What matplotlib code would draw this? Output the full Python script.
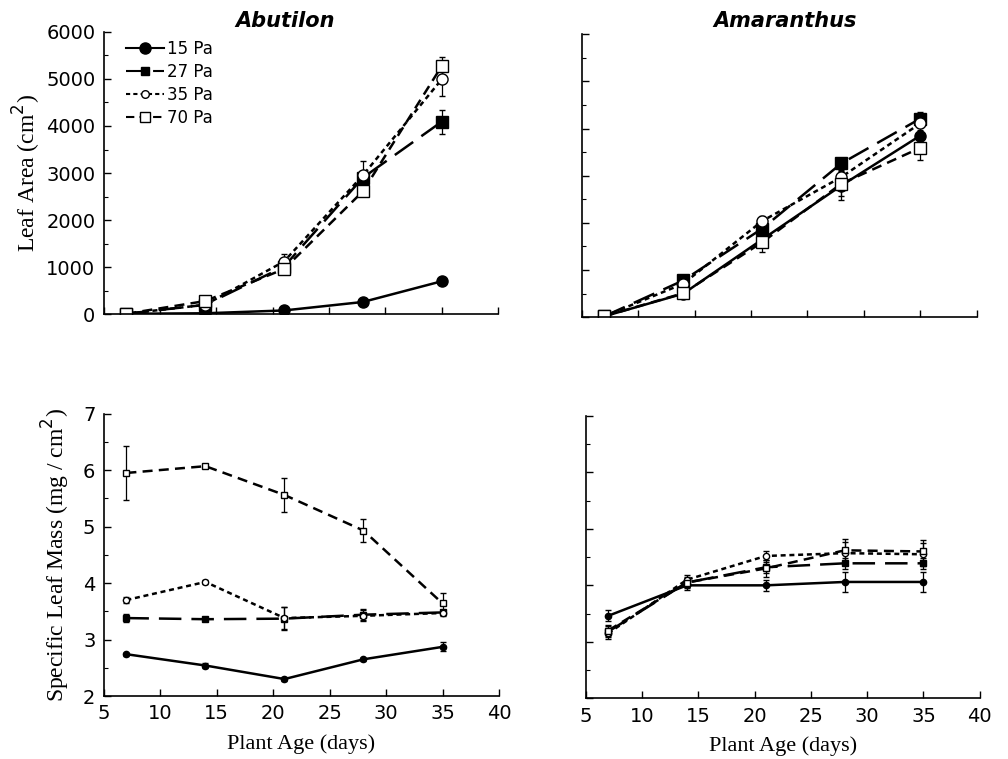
import numpy as np
import matplotlib
matplotlib.use("Agg")
import matplotlib.pyplot as plt
from matplotlib.lines import Line2D
from matplotlib.ticker import MultipleLocator

# plant age (days)
days = [7, 14, 21, 28, 35]
labels = ["15 Pa", "27 Pa", "35 Pa", "70 Pa"]

# leaf area (cm2)
abu_area = [[10, 20, 80, 260, 700],
            [10, 200, 1010, 2900, 4090],
            [10, 200, 1120, 2950, 4990],
            [10, 280, 960, 2610, 5270]]
abu_area_err = [[0, 0, 10, 20, 40],
                [0, 20, 80, 150, 250],
                [0, 30, 150, 300, 350],
                [0, 50, 60, 100, 200]]
ama_area = [[20, 500, 1650, 2790, 3850],
            [20, 780, 1880, 3260, 4210],
            [20, 710, 2040, 2970, 4110],
            [20, 510, 1590, 2830, 3590]]
ama_area_err = [[0, 40, 150, 300, 200],
                [0, 40, 100, 100, 150],
                [0, 40, 100, 150, 150],
                [0, 60, 200, 250, 250]]

# specific leaf mass (mg/cm2)
abu_slm = [[2.74, 2.54, 2.30, 2.65, 2.87],
           [3.38, 3.36, 3.37, 3.44, 3.48],
           [3.70, 4.02, 3.38, 3.42, 3.47],
           [5.95, 6.07, 5.56, 4.93, 3.64]]
abu_slm_err = [[0.03, 0.05, 0.03, 0.03, 0.08],
               [0.07, 0.03, 0.20, 0.10, 0.05],
               [0.05, 0.03, 0.20, 0.10, 0.05],
               [0.48, 0.03, 0.30, 0.20, 0.19]]
ama_slm = [[3.46, 4.00, 4.00, 4.06, 4.06],
           [3.18, 4.05, 4.32, 4.39, 4.39],
           [3.15, 4.10, 4.52, 4.57, 4.55],
           [3.20, 4.05, 4.30, 4.62, 4.60]]
ama_slm_err = [[0.10, 0.08, 0.10, 0.17, 0.17],
               [0.10, 0.08, 0.10, 0.10, 0.10],
               [0.10, 0.08, 0.08, 0.20, 0.20],
               [0.10, 0.10, 0.15, 0.20, 0.20]]

styles = [dict(ls="-", marker="o", mfc="black"),
          dict(ls=(0, (9, 4)), marker="s", mfc="black"),
          dict(ls=(0, (2, 1.5)), marker="o", mfc="white"),
          dict(ls=(0, (4, 2.5)), marker="s", mfc="white")]
legend_ms = [8, 6, 5.5, 7]

tick_font = "DejaVu Sans"
label_font = "Liberation Serif"

fig = plt.figure(figsize=(10.08, 7.59), dpi=100)
ax_tl = fig.add_axes([0.103, 0.586, 0.391, 0.372])
ax_tr = fig.add_axes([0.577, 0.582, 0.392, 0.373])
ax_bl = fig.add_axes([0.103, 0.083, 0.392, 0.372])
ax_br = fig.add_axes([0.581, 0.080, 0.391, 0.372])


def draw(ax, data, err, msize, lw):
    for i in range(4):
        st = styles[i]
        ax.errorbar(days, data[i], yerr=err[i], color="black", lw=lw,
                    ls=st["ls"], marker=st["marker"], mfc=st["mfc"],
                    mec="black", ms=msize, ecolor="black", elinewidth=0.9,
                    capsize=2)


draw(ax_tl, abu_area, abu_area_err, 8, 1.8)
draw(ax_tr, ama_area, ama_area_err, 8, 1.8)
draw(ax_bl, abu_slm, abu_slm_err, 4.5, 1.8)
draw(ax_br, ama_slm, ama_slm_err, 4.5, 1.8)

for ax in [ax_tl, ax_tr, ax_bl, ax_br]:
    ax.set_xlim(5, 40)
    ax.xaxis.set_major_locator(MultipleLocator(5))
    ax.spines["top"].set_visible(False)
    ax.spines["right"].set_visible(False)
    ax.spines["left"].set_linewidth(1.2)
    ax.spines["bottom"].set_linewidth(1.2)
    ax.tick_params(direction="in", length=5, width=1, labelsize=14, pad=6)
    ax.tick_params(which="minor", direction="in", length=3, width=0.8)
    for t in ax.get_xticklabels() + ax.get_yticklabels():
        t.set_fontfamily(tick_font)

for ax in [ax_tl, ax_tr]:
    ax.set_ylim(0, 6000)
    ax.yaxis.set_major_locator(MultipleLocator(1000))
    ax.yaxis.set_minor_locator(MultipleLocator(500))
    ax.tick_params(labelbottom=False)

for ax in [ax_bl, ax_br]:
    ax.set_ylim(2, 7)
    ax.yaxis.set_major_locator(MultipleLocator(1))
    ax.yaxis.set_minor_locator(MultipleLocator(0.5))
    ax.set_xlabel("Plant Age (days)", fontfamily=label_font, fontsize=16, labelpad=8)

ax_tr.tick_params(labelleft=False)
ax_br.tick_params(labelleft=False)

ax_tl.set_ylabel("Leaf Area (cm$^2$)", fontfamily=label_font, fontsize=17, labelpad=2)
ax_bl.set_ylabel("Specific Leaf Mass (mg / cm$^2$)", fontfamily=label_font,
                 fontsize=17, labelpad=8)

handles = [Line2D([], [], color="black", lw=1.5, ls=styles[i]["ls"],
                  marker=styles[i]["marker"], mfc=styles[i]["mfc"],
                  mec="black", ms=legend_ms[i]) for i in range(4)]
leg = ax_tl.legend(handles, labels, loc="upper left", frameon=False, fontsize=12,
                   handlelength=2.3, handletextpad=0.15, labelspacing=0.3,
                   borderpad=0.0, bbox_to_anchor=(0.035, 1.0))
for t in leg.get_texts():
    t.set_fontfamily(tick_font)

fig.text(0.283, 0.972, "Abutilon", fontfamily=tick_font, fontsize=15,
         fontweight="bold", fontstyle="italic", ha="center", va="center")
fig.text(0.779, 0.972, "Amaranthus", fontfamily=tick_font, fontsize=15,
         fontweight="bold", fontstyle="italic", ha="center", va="center")

fig.savefig("out.png", dpi=100)
